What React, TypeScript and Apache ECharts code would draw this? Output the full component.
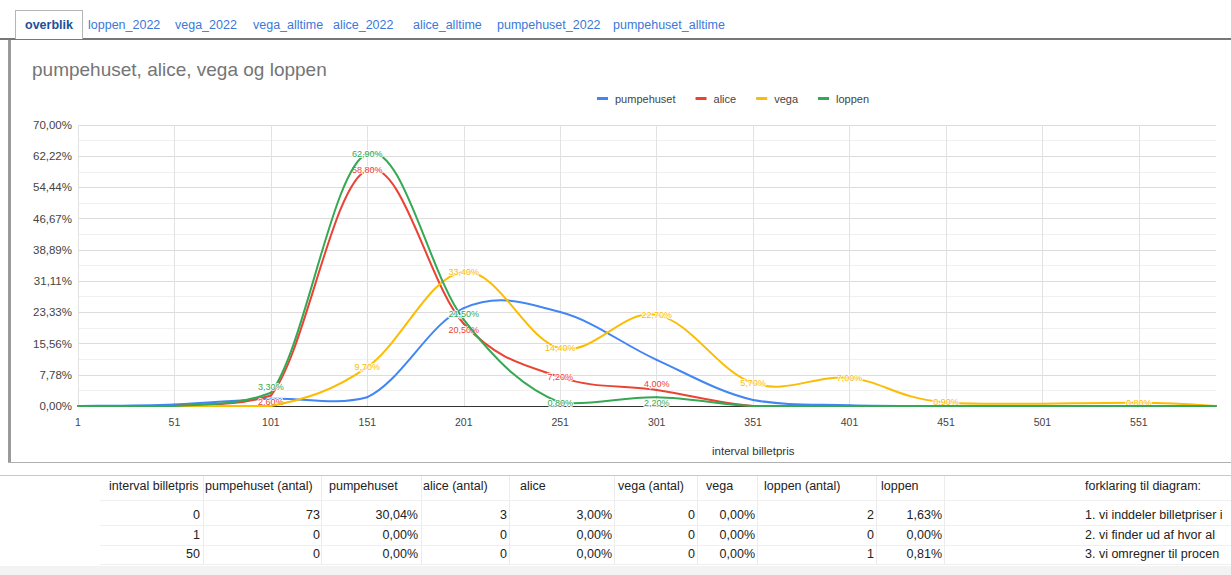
import React, { useEffect, useRef } from "react";
import * as echarts from "echarts";

const FONT = "'Liberation Sans', Arial, Helvetica, sans-serif";

const tabNames = ["overblik", "loppen_2022", "vega_2022", "vega_alltime", "alice_2022", "alice_alltime", "pumpehuset_2022", "pumpehuset_alltime"];
const tabLefts = [25, 88, 175, 253, 333, 413, 497, 613];

const chartTitle = "pumpehuset, alice, vega og loppen";
const xAxisName = "interval billetpris";
const seriesNames = ["pumpehuset", "alice", "vega", "loppen"];
const seriesColors = ["#4285f4", "#ea4335", "#fbbc04", "#34a853"];
const seriesLabelled = [false, true, true, true];

const intervals = [1, 51, 101, 151, 201, 251, 301, 351, 401, 451, 501, 551, 591];
const pumpehuset = [0, 0.4, 1.8, 2.2, 24.4, 23.4, 11.5, 1.5, 0.2, 0, 0, 0, 0];
const alice = [0, 0, 2.6, 58.8, 20.5, 7.2, 4.0, 0, 0, 0, 0, 0, 0];
const vega = [0, 0, 0, 9.7, 33.4, 14.4, 22.7, 5.7, 7.0, 0.9, null, 0.8, 0];
const loppen = [0, 0, 3.3, 62.9, 21.5, 0.8, 2.2, 0, 0, 0, 0, 0, 0];
const seriesValues: (number | null)[][] = [pumpehuset, alice, vega, loppen];

const xTickLabels = ["1", "51", "101", "151", "201", "251", "301", "351", "401", "451", "501", "551"];
const yTickLabels = ["0,00%", "7,78%", "15,56%", "23,33%", "31,11%", "38,89%", "46,67%", "54,44%", "62,22%", "70,00%"];

const tableHeaders = ["interval billetpris", "pumpehuset (antal)", "pumpehuset", "alice (antal)", "alice", "vega (antal)", "vega", "loppen (antal)", "loppen", "forklaring til diagram:"];
const tableHeaderLefts = [109, 205, 329, 423, 520, 618, 706, 764, 881, 1085];
const tableRows = [
  ["0", "73", "30,04%", "3", "3,00%", "0", "0,00%", "2", "1,63%", "1. vi inddeler billetpriser i"],
  ["1", "0", "0,00%", "0", "0,00%", "0", "0,00%", "0", "0,00%", "2. vi finder ud af hvor al"],
  ["50", "0", "0,00%", "0", "0,00%", "0", "0,00%", "1", "0,81%", "3. vi omregner til procen"],
];
const tableValueRights = [200, 320, 418, 507, 612, 695, 755, 874, 942];
const tableColLines = [203, 321, 421, 509, 614, 697, 757, 876, 944];
const tableHeaderY = 486;
const tableRowYs = [515, 535, 554];

const fmtPct = (v: number) => v.toFixed(2).replace(".", ",") + "%";

// label placement: above / below when another labelled series is close at the same x
function labelShift(si: number, i: number): number {
  const v = seriesValues[si][i] as number;
  let shift = 0;
  seriesValues.forEach((vals, sj) => {
    if (sj === si || !seriesLabelled[sj]) return;
    const w = vals[i];
    if (w == null || w <= 0) return;
    if (Math.abs(w - v) < 4) shift = v >= w ? -6 : 6;
  });
  return shift;
}

const TENSION = 0.18;

export default function App() {
  const ref = useRef<HTMLDivElement>(null);

  useEffect(() => {
    if (!ref.current) return;
    const chart = echarts.init(ref.current, undefined, { renderer: "svg" });
    const yStep = 70 / 9;
    const gridColors = xTickLabels.map(() => "#e2e2e2").concat(["rgba(0,0,0,0)"]);

    const series = seriesNames.map((name, si) => {
      const vals = seriesValues[si];
      const idx = intervals.map((_, i) => i).filter((i) => vals[i] != null);
      const color = seriesColors[si];
      return {
        name,
        type: "custom",
        xAxisIndex: 0,
        yAxisIndex: 0,
        z: 2 + si,
        clip: false,
        itemStyle: { color },
        encode: { x: 0, y: 1 },
        data: idx.map((i) => [intervals[i], vals[i]]),
        renderItem: (params: any, api: any) => {
          const j = params.dataIndex;
          const pt = (k: number) => {
            const kk = Math.max(0, Math.min(idx.length - 1, k));
            const i = idx[kk];
            return api.coord([intervals[i], vals[i]]);
          };
          const baseY = api.coord([intervals[0], 0])[1];
          const children: any[] = [];
          if (j < idx.length - 1) {
            const p0 = pt(j - 1), p1 = pt(j), p2 = pt(j + 1), p3 = pt(j + 2);
            children.push({
              type: "bezierCurve",
              shape: {
                x1: p1[0], y1: p1[1],
                x2: p2[0], y2: p2[1],
                cpx1: p1[0] + (p2[0] - p0[0]) * TENSION,
                cpy1: Math.min(baseY, p1[1] + (p2[1] - p0[1]) * TENSION),
                cpx2: p2[0] - (p3[0] - p1[0]) * TENSION,
                cpy2: Math.min(baseY, p2[1] - (p3[1] - p1[1]) * TENSION),
              },
              style: { stroke: color, lineWidth: 2, fill: "none", lineCap: "round" },
            });
          }
          const i = idx[j];
          const v = vals[i] as number;
          if (seriesLabelled[si] && v > 0) {
            const p = pt(j);
            children.push({
              type: "text",
              z2: 10,
              style: {
                text: fmtPct(v),
                x: p[0],
                y: p[1] + labelShift(si, i),
                align: "center",
                verticalAlign: "middle",
                fontSize: 9,
                fontFamily: FONT,
                fill: color,
                stroke: "rgba(255,255,255,0.85)",
                lineWidth: 2,
              },
            });
          }
          return { type: "group", children };
        },
      };
    });

    chart.setOption({
      animation: false,
      color: seriesColors,
      textStyle: { fontFamily: FONT },
      title: {
        text: chartTitle,
        left: 32,
        top: 60,
        padding: 0,
        textStyle: { fontSize: 19, fontWeight: "normal", color: "#757575", fontFamily: FONT },
      },
      legend: {
        data: seriesNames,
        left: 597,
        top: 93,
        icon: "rect",
        itemWidth: 11,
        itemHeight: 3,
        itemGap: 20,
        padding: 0,
        textStyle: { fontSize: 11, color: "#444", fontFamily: FONT, padding: [0, 0, 0, 2] },
      },
      grid: { left: 78, right: 15, top: 125, bottom: 169, containLabel: false },
      xAxis: [
        { type: "value", min: 1, max: 591, show: false, position: "top" },
        {
          type: "value",
          min: 0,
          max: 590,
          interval: 50,
          position: "bottom",
          axisLine: { show: true, onZero: false, lineStyle: { color: "#333", width: 1 } },
          axisTick: { show: false },
          axisLabel: {
            fontSize: 10.5,
            color: "#444",
            margin: 10,
            fontFamily: FONT,
            showMaxLabel: false,
            formatter: (v: number) => xTickLabels[Math.round(v / 50)] ?? "",
          },
          splitLine: { show: true, lineStyle: { color: gridColors, width: 1 } },
        },
      ],
      yAxis: {
        type: "value",
        min: 0,
        max: 70,
        interval: yStep,
        axisLine: { show: false },
        axisTick: { show: false },
        axisLabel: {
          fontSize: 11.5,
          color: "#444",
          margin: 6,
          fontFamily: FONT,
          formatter: (v: number) => yTickLabels[Math.round(v / yStep)] ?? "",
        },
        splitLine: { lineStyle: { color: "#dcdcdc" } },
        minorTick: { show: false, splitNumber: 2 },
        minorSplitLine: { show: true, lineStyle: { color: "#f0f0f0" } },
      },
      graphic: [
        {
          type: "text",
          left: 712,
          top: 445,
          style: { text: xAxisName, fontSize: 11.5, fill: "#333", fontFamily: FONT },
        },
      ],
      series,
    });
    return () => chart.dispose();
  }, []);

  const abs = (s: React.CSSProperties): React.CSSProperties => ({ position: "absolute", pointerEvents: "none", ...s });

  return (
    <div style={{ position: "fixed", left: 0, top: 0, width: 1231, height: 575, background: "#fff", overflow: "hidden", fontFamily: FONT }}>
      <div ref={ref} style={{ position: "absolute", left: 0, top: 0, width: 1231, height: 575 }} />
      {/* tabs */}
      <div style={abs({ left: 0, top: 38, width: 1231, height: 2, background: "#777" })} />
      <div style={abs({ left: 15, top: 10, width: 66, height: 28, border: "1px solid #b5b5b5", borderBottom: "none", background: "#fff" })} />
      {tabNames.map((t, i) => (
        <div
          key={t}
          style={abs({
            left: tabLefts[i],
            top: 17,
            fontSize: 12.5,
            lineHeight: "16px",
            color: i === 0 ? "#1c4f9c" : "#3c78d8",
            fontWeight: i === 0 ? "bold" : "normal",
            whiteSpace: "nowrap",
          })}
        >
          {t}
        </div>
      ))}
      {/* chart frame */}
      <div style={abs({ left: 8, top: 40, width: 3, height: 423, background: "#9a9a9a" })} />
      <div style={abs({ left: 8, top: 462, width: 1223, height: 1, background: "#b0b0b0" })} />
      {/* table */}
      <div style={abs({ left: 0, top: 475, width: 1231, height: 1, background: "#c8c8c8" })} />
      {tableColLines.map((x, i) => (
        <div key={"cl" + i} style={abs({ left: x, top: 476, width: 1, height: 88, background: "#ececec" })} />
      ))}
      {[500, 525, 545, 564].map((y, i) => (
        <div key={"rl" + i} style={abs({ left: 100, top: y, width: 1131, height: 1, background: "#efefef" })} />
      ))}
      <div style={abs({ left: 0, top: 566, width: 1231, height: 9, background: "#f3f3f3" })} />
      {tableHeaders.map((h, i) => (
        <div key={"h" + i} style={abs({ left: tableHeaderLefts[i], top: tableHeaderY - 8, fontSize: 12.5, lineHeight: "16px", color: "#222", whiteSpace: "nowrap" })}>
          {h}
        </div>
      ))}
      {tableRows.map((row, ri) => (
        <React.Fragment key={"r" + ri}>
          {row.slice(0, 9).map((c, ci) => (
            <div
              key={"c" + ci}
              style={abs({ left: tableValueRights[ci] - 100, width: 100, textAlign: "right", top: tableRowYs[ri] - 8, fontSize: 12.5, lineHeight: "16px", color: "#222", whiteSpace: "nowrap" })}
            >
              {c}
            </div>
          ))}
          <div style={abs({ left: tableHeaderLefts[9], top: tableRowYs[ri] - 8, width: 1231 - tableHeaderLefts[9], overflow: "hidden", fontSize: 12.5, lineHeight: "16px", color: "#222", whiteSpace: "nowrap" })}>
            {row[9]}
          </div>
        </React.Fragment>
      ))}
    </div>
  );
}
